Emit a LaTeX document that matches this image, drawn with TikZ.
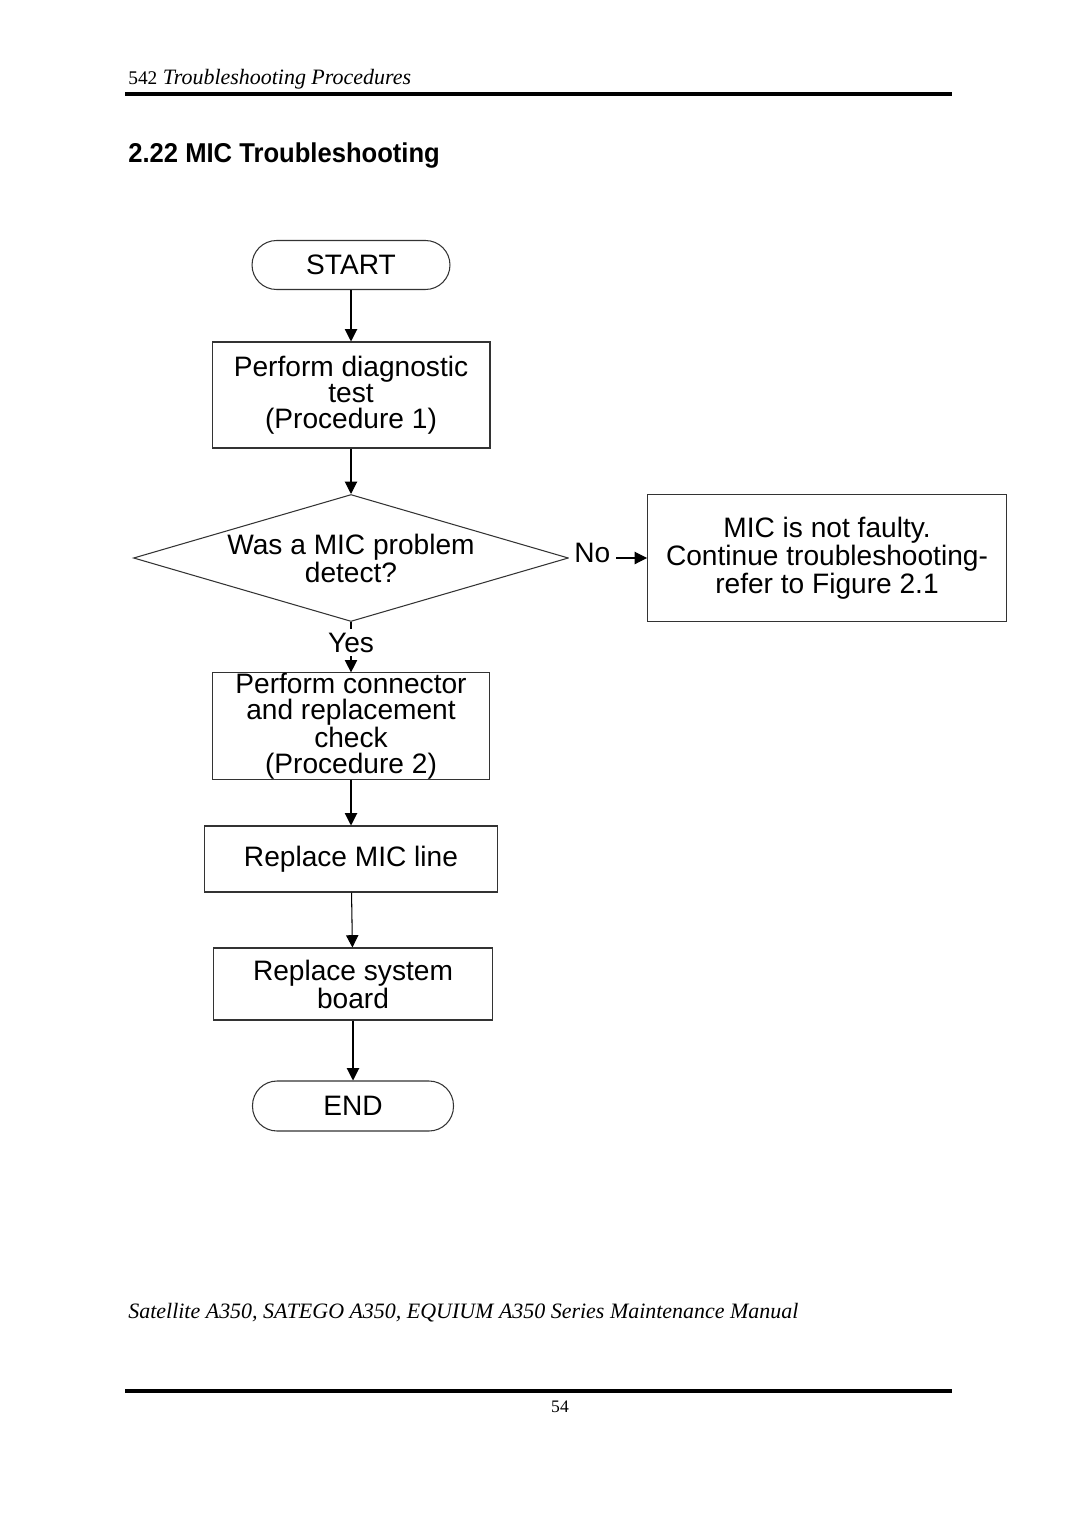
\documentclass[tikz,border=0pt]{standalone}
\usepackage{fontspec}
\setmainfont{Liberation Serif}
\newfontfamily\flowfont{Liberation Sans}
\usetikzlibrary{arrows.meta,shapes.geometric}

\begin{document}
\begin{tikzpicture}[x=0.02cm, y=-0.02cm,
	every node/.style={font=\flowfont\fontsize{16}{14.8}\selectfont, align=center, inner sep=0pt},
	termnode/.style={rectangle, rounded corners=0.49cm, draw=black!80, line width=0.6pt},
	boxnode/.style={rectangle, draw=black!80, line width=0.6pt},
	decnode/.style={diamond, aspect=3.4, draw=black!80, line width=0.6pt, minimum width=8.7cm, minimum height=2.54cm},
	arr/.style={-{Triangle[length=7pt,width=7pt]}, line width=0.6pt},
	]
	\useasboundingbox (0,0) rectangle (1080,1527);
	
	%Page
	\node[anchor=base west, font=\fontsize{12.5}{15}\selectfont] (head) at (128,85) {{\fontsize{11}{13}\selectfont 542} \textit{Troubleshooting Procedures}};
	\draw[line width=2.3pt] (125,94) -- (952,94);
	\node[anchor=base west, font=\flowfont\bfseries\fontsize{15.5}{18}\selectfont] (title) at (128,163) {\scalebox{0.94}[1]{2.22 MIC Troubleshooting}};
	\node[anchor=base west, font=\itshape\fontsize{12.5}{15}\selectfont] (foot) at (128,1318) {Satellite A350, SATEGO A350, EQUIUM A350 Series Maintenance Manual};
	\draw[line width=2.6pt] (125,1391) -- (952,1391);
	\node[anchor=base, font=\fontsize{10}{12}\selectfont] (page) at (560,1412) {54};
	
	%Nodes
	\node[termnode, minimum width=3.96cm, minimum height=0.98cm] (start) at (351,265) {START};
	\node[boxnode, minimum width=5.56cm, minimum height=2.12cm] (diag) at (351,395) {Perform diagnostic\\test\\(Procedure 1)};
	\node[decnode] (detect) at (351,558) {Was a MIC problem\\detect?};
	\node[boxnode, minimum width=7.18cm, minimum height=2.54cm] (notfaulty) at (827,558) {MIC is not faulty.\\Continue troubleshooting-\\refer to Figure 2.1};
	\node[boxnode, minimum width=5.54cm, minimum height=2.1cm] (check) at (351,726) {Perform connector\\and replacement\\check\\(Procedure 2)};
	\node[boxnode, minimum width=5.86cm, minimum height=1.32cm] (micline) at (351,859) {Replace MIC line};
	\node[boxnode, minimum width=5.58cm, minimum height=1.44cm] (board) at (353,984) {Replace system\\board};
	\node[termnode, minimum width=4.02cm, minimum height=1.0cm] (end) at (353,1106) {END};
	
	%Lines
	\draw[arr] (start) -- (diag);
	\draw[arr] (diag) -- (detect);
	\draw[arr] (detect) -- node[fill=white, pos=0.3, yshift=3pt, inner xsep=3pt] {No} (notfaulty);
	\draw[arr] (detect) -- node[fill=white, pos=0.41, inner ysep=2pt] {Yes} (check);
	\draw[arr] (check) -- (micline);
	\draw[arr] (micline) -- (board);
	\draw[arr] (board) -- (end);
	
\end{tikzpicture}
\end{document}
